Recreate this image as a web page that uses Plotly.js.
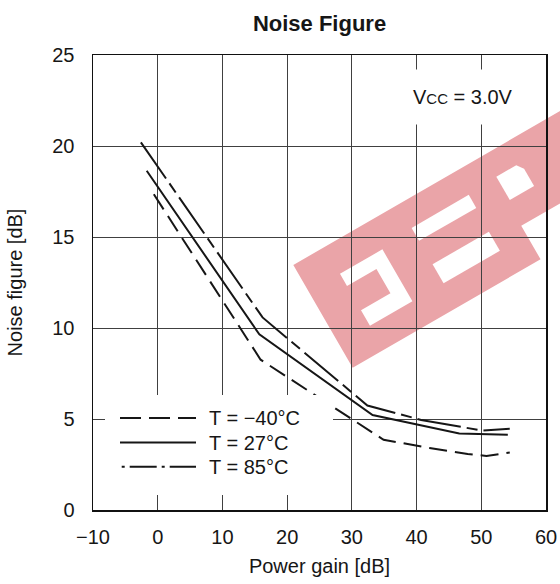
<!DOCTYPE html>
<html>
<head>
<meta charset="utf-8">
<script src="https://cdn.plot.ly/plotly-3.0.1.min.js"></script>
<style>html,body{margin:0;padding:0;background:#fff;}#chart{width:560px;height:584px;}</style>
</head>
<body>
<div id="chart"></div>
<script>
// ---- data ----
var seriesNames = ["T = \u221240\u00b0C", "T = 27\u00b0C", "T = 85\u00b0C"];
var gainM40 = [-0.6, 15.9, 34.9, 42.0, 47.9, 50.8, 54.4];
var nfM40   = [17.35, 8.26, 3.86, 3.41, 3.08, 2.97, 3.16];
var gain27  = [-1.7, 15.7, 33.2, 46.6, 54.1];
var nf27    = [18.64, 9.65, 5.22, 4.21, 4.14];
var gain85  = [-2.6, 16.2, 32.4, 40.7, 50.2, 54.4];
var nf85    = [20.2, 10.58, 5.74, 4.95, 4.36, 4.47];
var xTicks  = [-10, 0, 10, 20, 30, 40, 50, 60];
var yTicks  = [0, 5, 10, 15, 20, 25];

// ---- layout geometry (pixels) ----
var W = 560, H = 584;
var M = {l: 93, r: 14, t: 55, b: 74};
var PW = W - M.l - M.r, PH = H - M.t - M.b;
function px(x) { return (x - M.l) / PW; }
function py(y) { return (H - M.b - y) / PH; }

var FONT = "Liberation Sans, Arial, Helvetica, sans-serif";
var ink = "#161616";

var dashes = ["18px,8px", "solid", "44px,6px,11px,6px"];
var legendDashes = ["21px,8px", "solid", "3px,5px,27px,5px"];

var traces = [
  {x: gainM40, y: nfM40, name: seriesNames[0], dash: dashes[0]},
  {x: gain27,  y: nf27,  name: seriesNames[1], dash: dashes[1]},
  {x: gain85,  y: nf85,  name: seriesNames[2], dash: dashes[2]}
].map(function (s) {
  return {x: s.x, y: s.y, name: s.name, type: "scatter", mode: "lines",
          showlegend: false, hoverinfo: "skip",
          line: {color: ink, width: 2, dash: s.dash}};
});

// ---- watermark (decoration) ----
var O = [293.3, 265], U = [0.866, -0.5], V = [0.5, 0.866];
function wm(pts) {
  return pts.map(function (p, i) {
    var sx = O[0] + p[0] * U[0] + p[1] * V[0];
    var sy = O[1] + p[0] * U[1] + p[1] * V[1];
    return (i ? "L" : "M") + px(sx).toFixed(4) + "," + py(sy).toFixed(4);
  }).join(" ") + " Z";
}
var red = "rgb(234,164,168)";
var shapes = [];
shapes.push({type: "path", xref: "paper", yref: "paper", layer: "below",
  path: wm([[0,0],[330,0],[330,80],[217,80],[217,118.7],[0,118.7]]),
  fillcolor: red, line: {width: 0}});
[
  [[36,31],[85,31],[85,91],[36,91],[36,73],[70,73],[70,45],[36,45]],
  [[121,27],[187,27],[187,42],[121,42]],
  [[121,69],[186,69],[186,91],[121,91]],
  [[220,25],[243,25],[248,32],[248,52],[220,52]]
].forEach(function (h) {
  shapes.push({type: "path", xref: "paper", yref: "paper", layer: "below",
    path: wm(h), fillcolor: "#ffffff", line: {width: 0}});
});

// ---- legend box (drawn by hand to match long line samples) ----
shapes.push({type: "rect", xref: "paper", yref: "paper", layer: "above",
  x0: px(105), x1: px(333), y0: py(495), y1: py(395),
  fillcolor: "#ffffff", line: {width: 0}});
var rowY = [418, 442.5, 466.7];
var annotations = [];
for (var i = 0; i < 3; i++) {
  shapes.push({type: "line", xref: "paper", yref: "paper", layer: "above",
    x0: px(i === 2 ? 121.7 : 120), x1: px(196), y0: py(rowY[i]), y1: py(rowY[i]),
    line: {color: ink, width: 2, dash: legendDashes[i]}});
  annotations.push({xref: "paper", yref: "paper", x: px(207), y: py(rowY[i]),
    xanchor: "left", yanchor: "middle", showarrow: false, text: seriesNames[i],
    font: {family: FONT, size: 20, color: ink}});
}
annotations.push({xref: "paper", yref: "paper", x: px(463), y: py(97),
  xanchor: "center", yanchor: "middle", showarrow: false,
  text: 'V<span style="font-size:15px">CC</span> = 3.0V',
  bgcolor: "#ffffff", borderpad: 16,
  font: {family: FONT, size: 20, color: ink}});

var layout = {
  width: W, height: H,
  margin: M,
  paper_bgcolor: "#ffffff", plot_bgcolor: "#ffffff",
  font: {family: FONT, size: 20, color: ink},
  title: {text: "<b>Noise Figure</b>", font: {family: FONT, size: 22, color: ink},
          xref: "paper", x: 0.5, xanchor: "center", y: 1 - 23 / H, yanchor: "middle", yref: "container"},
  xaxis: {range: [-10, 60], tickvals: xTicks, ticks: "", showgrid: true,
          gridcolor: "#404040", gridwidth: 1, zeroline: false,
          showline: true, mirror: true, linecolor: "#111", linewidth: 1.5,
          ticklabelstandoff: 8, tickfont: {size: 20},
          title: {text: "Power gain [dB]", font: {size: 20}, standoff: 12}},
  yaxis: {range: [0, 25], tickvals: yTicks, ticks: "", showgrid: true,
          gridcolor: "#404040", gridwidth: 1, zeroline: false,
          showline: true, mirror: true, linecolor: "#111", linewidth: 1.5,
          ticklabelstandoff: 13, tickfont: {size: 20},
          title: {text: "Noise figure [dB]", font: {size: 20}, standoff: 24}},
  shapes: shapes,
  annotations: annotations,
  showlegend: false
};

Plotly.newPlot("chart", traces, layout, {staticPlot: true, displayModeBar: false});
</script>
</body>
</html>
